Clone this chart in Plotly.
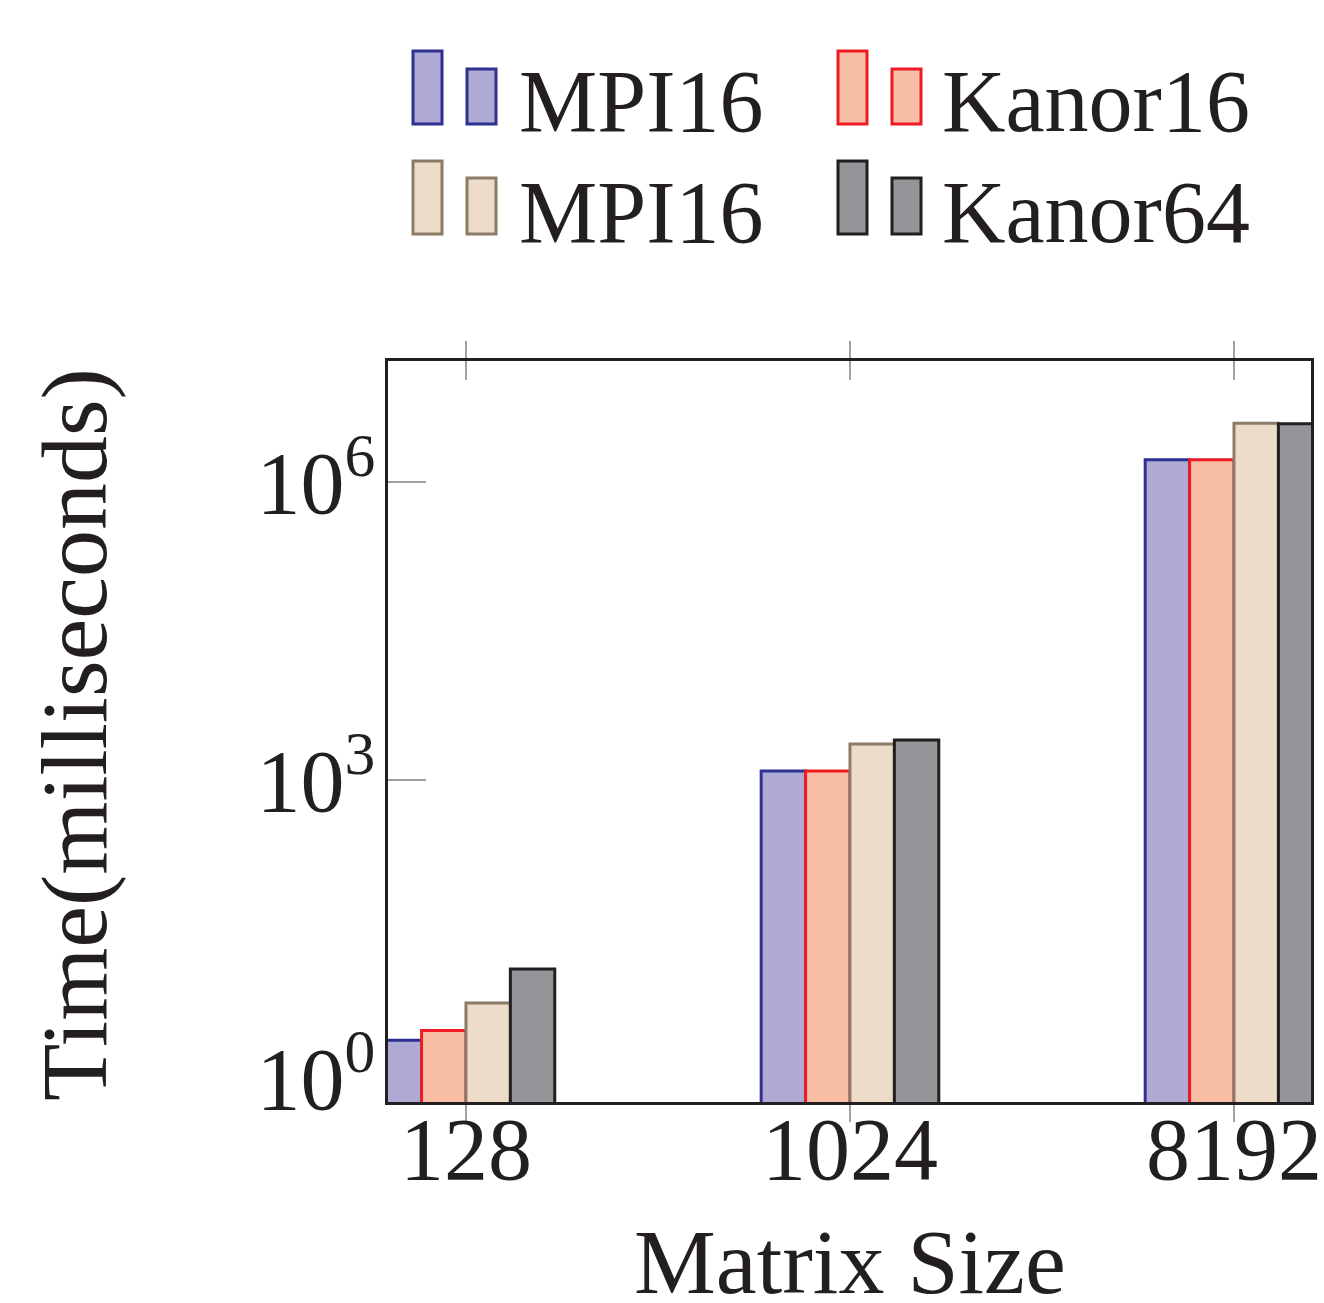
import plotly.graph_objects as go

# ---- data ----
categories = ["128", "1024", "8192"]
series_names = ["MPI16", "Kanor16", "MPI16", "Kanor64"]
mpi16_a = [2.4, 1230, 1.67e6]
kanor16 = [3.0, 1230, 1.67e6]
mpi16_b = [5.7, 2300, 3.9e6]
kanor64 = [12.5, 2530, 3.85e6]
series_values = [mpi16_a, kanor16, mpi16_b, kanor64]
y_tickvals = [1, 1e3, 1e6]
y_ticktext = ["10<sup>0</sup>", "10<sup>3</sup>", "10<sup>6</sup>"]

fills = ["#AEAAD3", "#F9BFA6", "#EDDCC9", "#939598"]
edges = ["#2E3192", "#ED1C24", "#8C7B67", "#231F20"]

W, H = 1324, 1303
L, R, T, B = 388, 1311, 361, 1102
FONT = "Liberation Serif"
TXT = "#231F20"
FS = 88
TICKC = "#A0A0A0"

xpos = list(range(len(categories)))


def px(x):
    return (x - L) / (R - L)


def py(y):
    return (B - y) / (B - T)


fig = go.Figure()
for name, vals, fc, ec in zip(series_names, series_values, fills, edges):
    fig.add_trace(go.Bar(
        x=xpos, y=vals, name=name,
        marker=dict(color=fc, line=dict(color=ec, width=3)),
        showlegend=False,
    ))
# helper (invisible) trace so the overlaid tick axis is drawn
fig.add_trace(go.Scatter(
    x=xpos, y=[None] * len(xpos), xaxis="x2", mode="markers",
    showlegend=False, hoverinfo="skip",
))

shapes = []
annotations = []

# custom legend (pgfplots ybar-style two-bar icons)
legend_cols = [(413, 467, 517), (838, 892, 940)]
legend_rows = [(51, 69, 124, 102), (161, 178, 234, 212)]
for i in range(len(series_names)):
    r, c = divmod(i, 2)
    xa, xb, xt = legend_cols[c]
    ytall, yshort, ybot, ytext = legend_rows[r]
    for x0, ytop in ((xa, ytall), (xb, yshort)):
        shapes.append(dict(
            type="rect", xref="paper", yref="paper",
            x0=px(x0), x1=px(x0 + 29), y0=py(ybot), y1=py(ytop),
            fillcolor=fills[i], line=dict(color=edges[i], width=3),
        ))
    annotations.append(dict(
        xref="paper", yref="paper", x=px(xt), y=py(ytext),
        xanchor="left", yanchor="middle", showarrow=False,
        text=series_names[i], font=dict(family=FONT, size=FS, color=TXT),
    ))

# axis titles
annotations.append(dict(
    xref="paper", yref="paper", x=px(850), y=py(1262),
    xanchor="center", yanchor="middle", showarrow=False,
    text="Matrix Size", font=dict(family=FONT, size=92, color=TXT),
))
annotations.append(dict(
    xref="paper", yref="paper", x=px(74), y=py(735),
    xanchor="center", yanchor="middle", showarrow=False, textangle=-90,
    text="Time(milliseconds)", font=dict(family=FONT, size=94, color=TXT),
))

xr = [-0.203, 2.2005]
fig.update_layout(
    width=W, height=H,
    margin=dict(l=L, r=W - R, t=T, b=H - B, autoexpand=False),
    paper_bgcolor="white", plot_bgcolor="white",
    barmode="group", bargap=0.5375, bargroupgap=0,
    font=dict(family=FONT, size=FS, color=TXT),
    shapes=shapes, annotations=annotations,
    xaxis=dict(
        type="linear", range=xr,
        tickmode="array", tickvals=xpos, ticktext=categories,
        showline=True, linecolor=TXT, linewidth=3, mirror="ticks",
        ticks="outside", ticklen=17, tickwidth=2, tickcolor=TICKC,
        showgrid=False, zeroline=False, layer="below traces",
        tickfont=dict(family=FONT, size=FS, color=TXT),
        ticklabelstandoff=-49, automargin=False,
    ),
    xaxis2=dict(
        overlaying="x", anchor="y", side="bottom", type="linear",
        range=xr, tickmode="array", tickvals=xpos,
        showticklabels=False, showline=False, mirror="ticks",
        ticks="inside", ticklen=19, tickwidth=2, tickcolor=TICKC,
        showgrid=False, zeroline=False, layer="below traces",
        automargin=False,
    ),
    yaxis=dict(
        type="log", range=[-0.242, 7.218],
        tickmode="array", tickvals=y_tickvals, ticktext=y_ticktext,
        showline=True, linecolor=TXT, linewidth=3, mirror=True,
        ticks="inside", ticklen=38, tickwidth=2, tickcolor=TICKC,
        showgrid=False, zeroline=False, layer="below traces",
        tickfont=dict(family=FONT, size=FS, color=TXT),
        ticklabelstandoff=-8, automargin=False,
    ),
)

fig.write_html(
    "out.html",
    config={"displayModeBar": False},
    post_script="document.body.style.margin='0';document.body.style.padding='0';",
)
